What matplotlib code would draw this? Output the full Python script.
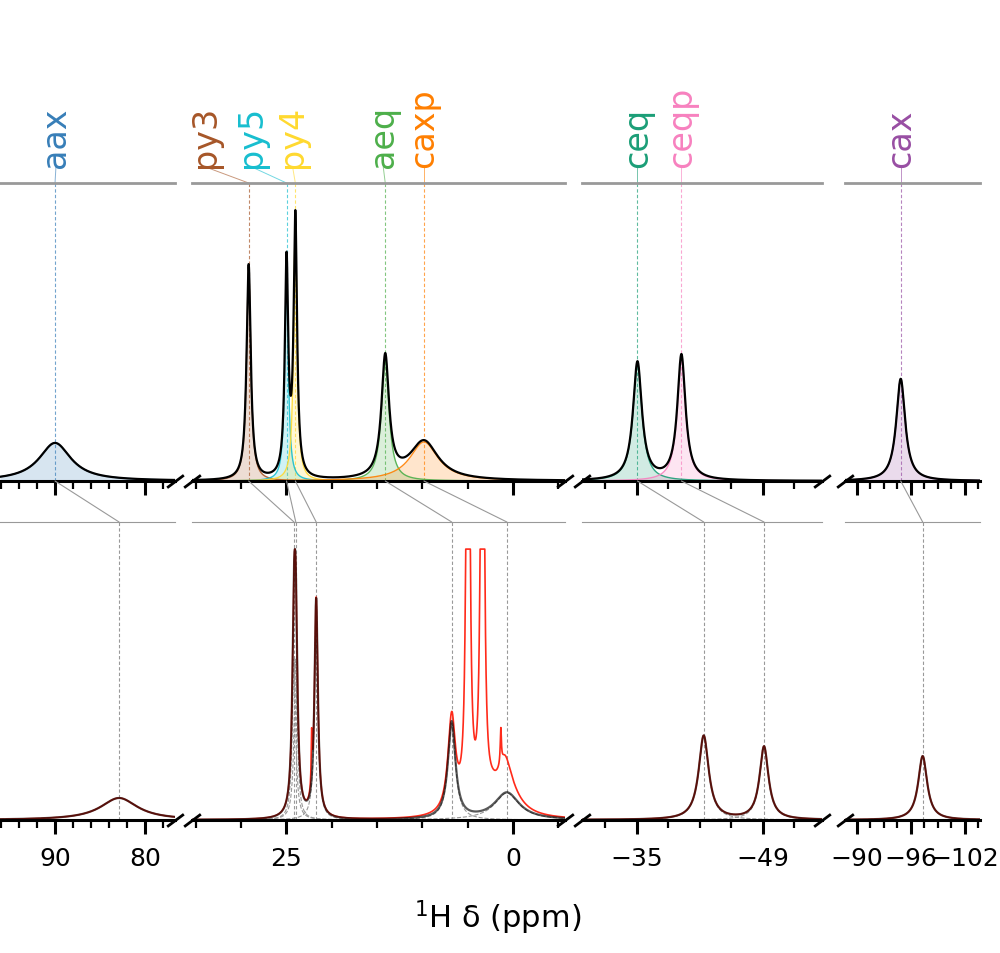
import numpy as np
import matplotlib
matplotlib.use("Agg")
import matplotlib.pyplot as plt
from matplotlib.ticker import MultipleLocator, FixedLocator
from matplotlib.patches import ConnectionPatch

# calculated shifts (top row), ppm
names = ["aax", "py3", "py5", "py4", "aeq", "caxp", "ceq", "ceqp", "cax"]
colors = ["#377eb8", "#a65628", "#17becf", "#ffd92f", "#4daf4a",
          "#ff7f00", "#1b9e77", "#f781bf", "#984ea3"]
calc_shift = [90.0, 29.15, 24.97, 24.0, 14.08, 9.81, -35.07, -39.96, -94.86]
calc_height = [38, 215, 214, 258, 121, 39, 118, 125, 102]
calc_width = [4.3, 0.55, 0.45, 0.45, 1.0, 3.8, 1.2, 1.1, 1.2]
label_pos = [89.9, 33.9, 28.8, 24.3, 14.3, 9.81, -35.07, -39.96, -94.86]

# fitted experimental shifts (bottom row)
exp_shift = [82.9, 24.15, 23.95, 21.7, 6.75, 0.66, -42.44, -49.15, -97.3]
exp_height = [22, 161, 161, 219, 97, 27, 84, 73, 64]
exp_width = [5.0, 0.45, 0.45, 0.45, 1.0, 3.3, 1.35, 1.2, 1.2]

# lines only in the measured spectrum (solvent / impurities)
extra_shift = [22.2, 4.95, 3.36, 2.3, 1.33, 0.9]
extra_height = [50, 1000, 1000, 8, 35, 30]
extra_width = [0.12, 0.3, 0.3, 1.5, 0.15, 1.6]

# broken axis segments
xlims = [(96.1, 76.7), (35.4, -5.75), (-28.9, -55.6), (-88.67, -103.67)]
major_ticks = [[90, 80], [25, 0], [-35, -49], [-90, -96, -102]]
minor_step = [2, 5, 3.5, 1.5]


def lorentz(x, x0, h, w):
    return h / (1 + (2 * (x - x0) / w) ** 2)


W, H = 1000, 954
fig = plt.figure(figsize=(W / 100, H / 100), dpi=100)

lefts = [0, 192, 582, 845]
rights = [175, 565, 822, 980]
top_row = (482, 184)
bot_row = (821, 523)

grids = [np.linspace(a, b, 4000) for a, b in xlims]

calc_comps = [[lorentz(x, s, h, w) for s, h, w in zip(calc_shift, calc_height, calc_width)] for x in grids]
exp_comps = [[lorentz(x, s, h, w) for s, h, w in zip(exp_shift, exp_height, exp_width)] for x in grids]
extra = [sum(lorentz(x, s, h, w) for s, h, w in zip(extra_shift, extra_height, extra_width)) for x in grids]

calc_sum = [np.sum(c, axis=0) for c in calc_comps]
exp_sum = [np.sum(c, axis=0) for c in exp_comps]
top_max = max(s.max() for s in calc_sum)
bot_max = max(s.max() for s in exp_sum)

d = 0.75
brk = dict(marker=[(-1, -d), (1, d)], markersize=12, linestyle="none",
           color="k", mec="k", mew=2, clip_on=False, zorder=10)

axes_top, axes_bot = [], []
for i in range(4):
    x0 = lefts[i] / W
    w = (rights[i] - lefts[i]) / W
    for row, (yb, yt) in enumerate([top_row, bot_row]):
        ax = fig.add_axes([x0, 1 - yb / H, w, (yb - yt) / H])
        ax.set_xlim(*xlims[i])
        ax.set_facecolor("none")
        for s in ["left", "right"]:
            ax.spines[s].set_visible(False)
        ax.spines["bottom"].set_linewidth(2.2)
        ax.spines["top"].set_color("#999999")
        ax.spines["top"].set_linewidth(2.0 if row == 0 else 0.8)
        ax.set_yticks([])
        ax.xaxis.set_major_locator(FixedLocator(major_ticks[i]))
        ax.xaxis.set_minor_locator(MultipleLocator(minor_step[i]))
        ax.tick_params(axis="x", which="major", direction="out", length=10,
                       width=2.2, labelsize=18, pad=9)
        ax.tick_params(axis="x", which="minor", direction="out", length=6, width=1.6)
        if row == 0:
            ax.tick_params(axis="x", labelbottom=False)
            ax.set_ylim(0, top_max * 1.1)
            axes_top.append(ax)
        else:
            ax.set_ylim(0, bot_max * 1.1)
            axes_bot.append(ax)
        ends = []
        if i > 0:
            ends.append(0)
        if i < 3:
            ends.append(1)
        if ends:
            ax.plot(ends, [0] * len(ends), transform=ax.transAxes, **brk)

for i in range(4):
    x = grids[i]
    axt, axb = axes_top[i], axes_bot[i]
    for comp, c in zip(calc_comps[i], colors):
        axt.fill_between(x, comp, color=c, alpha=0.2, lw=0, zorder=1)
        axt.plot(x, comp, color=c, lw=1.0, alpha=0.9, zorder=2)
    axt.plot(x, calc_sum[i], color="k", lw=1.6, zorder=3)

    red = np.minimum(exp_sum[i] + extra[i], bot_max)
    for comp in exp_comps[i]:
        axb.plot(x, comp, color="0.6", ls="--", lw=0.8, zorder=1)
    axb.plot(x, red, color="#ff2a1a", lw=1.2, zorder=2)
    axb.plot(x, exp_sum[i], color="k", lw=1.6, alpha=0.65, zorder=3)

# labels, leader lines and calc -> exp links
y_lab = 1 + 16 / (top_row[0] - top_row[1])
for n, c, sc, lp, se in zip(names, colors, calc_shift, label_pos, exp_shift):
    i = next(k for k, (a, b) in enumerate(xlims) if b <= sc <= a)
    j = next(k for k, (a, b) in enumerate(xlims) if b <= se <= a)
    axt, axb = axes_top[i], axes_bot[j]
    tr = axt.get_xaxis_transform()
    axt.text(lp, y_lab, n, transform=tr, rotation=90, ha="center", va="bottom",
             color=c, fontsize=24, clip_on=False)
    axt.plot([lp, sc], [y_lab, 1.0], transform=tr, color=c, lw=0.7,
             alpha=0.6, clip_on=False)
    axt.axvline(sc, color=c, ls=(0, (3, 2)), lw=0.8, alpha=0.7, zorder=0.5)
    axb.axvline(se, color="0.6", ls=(0, (3, 2)), lw=0.8, zorder=0.5)
    con = ConnectionPatch(xyA=(sc, 0), coordsA=tr, axesA=axt,
                          xyB=(se, 1), coordsB=axb.get_xaxis_transform(), axesB=axb,
                          color="0.6", lw=0.8)
    fig.add_artist(con)

fig.text(0.498, 1 - 918 / H, r"$^{1}$H δ (ppm)", ha="center", va="center", fontsize=22)

fig.savefig("out.png", dpi=100)
